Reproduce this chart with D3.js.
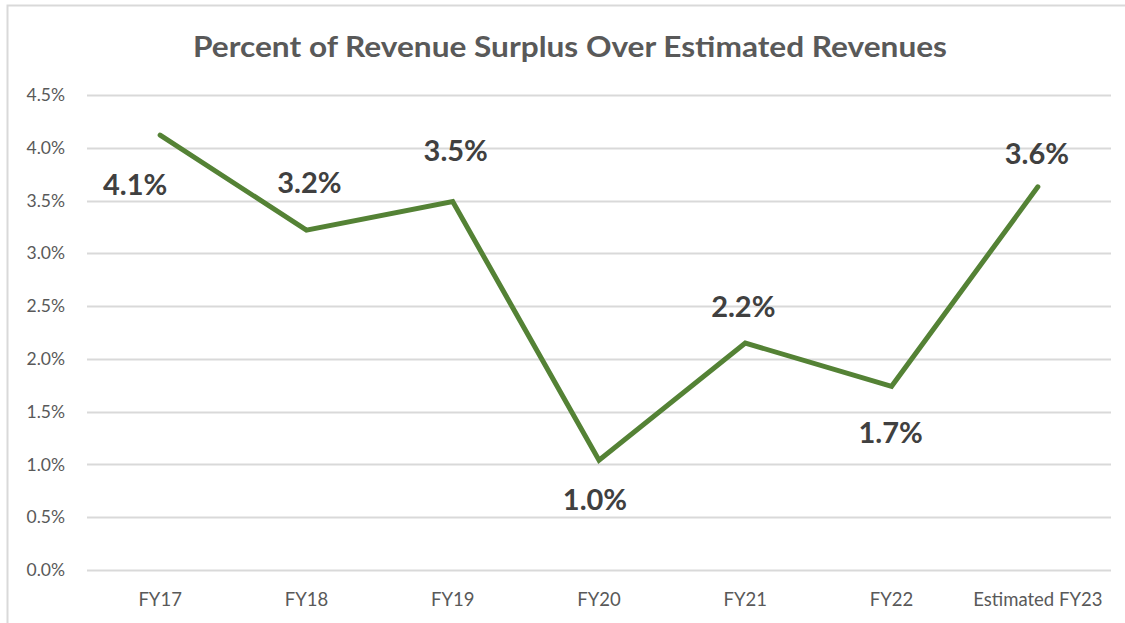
<!DOCTYPE html>
<html>
<head>
<meta charset="utf-8">
<script src="https://cdn.jsdelivr.net/npm/d3@7"></script>
<style>
  body { margin: 0; background: #fff; }
  #chart { font-family: Lato, "Open Sans", sans-serif; }
</style>
</head>
<body>
<div id="chart"></div>
<script>
var categories = ["FY17", "FY18", "FY19", "FY20", "FY21", "FY22", "Estimated FY23"];
var values = [4.12, 3.22, 3.49, 1.04, 2.15, 1.74, 3.63];
var labels = ["4.1%", "3.2%", "3.5%", "1.0%", "2.2%", "1.7%", "3.6%"];
var yTicks = [0, 0.5, 1, 1.5, 2, 2.5, 3, 3.5, 4, 4.5];

// where each data label sits relative to its point (hand placed in the original)
var labelOffsets = [[-25, 50], [3, -47], [3, -51], [-4, 40], [-2, -36], [-1, 47], [-1, -33]];

var width = 1125, height = 623,
    margin = {top: 95, right: 14, bottom: 53, left: 87};

var svg = d3.select("#chart").append("svg")
  .attr("width", width)
  .attr("height", height);

// chart frame
svg.append("path")
  .attr("d", "M7.5,623 V5.5 H1125")
  .style("fill", "none")
  .style("stroke", "#d9d9d9")
  .style("stroke-width", 2);

svg.append("text")
  .attr("x", 570)
  .attr("y", 57)
  .attr("text-anchor", "middle")
  .attr("textLength", 754)
  .attr("lengthAdjust", "spacingAndGlyphs")
  .style("font-size", "29px")
  .style("font-weight", "bold")
  .style("fill", "#595959")
  .text("Percent of Revenue Surplus Over Estimated Revenues");

var x = d3.scaleBand()
  .domain(categories)
  .range([margin.left, width - margin.right]);

var y = d3.scaleLinear()
  .domain([0, 4.5])
  .range([height - margin.bottom, margin.top]);

// gridlines
svg.append("g")
  .selectAll("line")
  .data(yTicks)
  .enter()
  .append("line")
  .attr("x1", margin.left)
  .attr("x2", width - margin.right)
  .attr("y1", function(d){ return Math.round(y(d)) + 0.5; })
  .attr("y2", function(d){ return Math.round(y(d)) + 0.5; })
  .style("stroke", "#d9d9d9")
  .style("stroke-width", 2);

// y tick labels
svg.append("g")
  .selectAll("text")
  .data(yTicks)
  .enter()
  .append("text")
  .attr("x", 65)
  .attr("y", function(d){ return y(d); })
  .attr("dy", "0.35em")
  .attr("text-anchor", "end")
  .style("font-size", "17.5px")
  .style("fill", "#595959")
  .text(function(d){ return d.toFixed(1) + "%"; });

// x tick labels
svg.append("g")
  .selectAll("text")
  .data(categories)
  .enter()
  .append("text")
  .attr("x", function(d){ return x(d) + x.bandwidth() / 2; })
  .attr("y", 606)
  .attr("text-anchor", "middle")
  .style("font-size", "18.5px")
  .style("fill", "#595959")
  .text(function(d){ return d; });

var line = d3.line()
  .x(function(d, i){ return x(categories[i]) + x.bandwidth() / 2; })
  .y(function(d){ return y(d); });

svg.append("path")
  .datum(values)
  .attr("d", line)
  .style("fill", "none")
  .style("stroke", "#548235")
  .style("stroke-width", 5)
  .style("stroke-linejoin", "miter")
  .style("stroke-linecap", "round");

// data labels
svg.append("g")
  .selectAll("text")
  .data(values)
  .enter()
  .append("text")
  .attr("x", function(d, i){ return x(categories[i]) + x.bandwidth() / 2 + labelOffsets[i][0]; })
  .attr("y", function(d, i){ return y(d) + labelOffsets[i][1]; })
  .attr("dy", "0.35em")
  .attr("text-anchor", "middle")
  .style("font-size", "29px")
  .style("font-weight", "bold")
  .style("fill", "#404040")
  .text(function(d, i){ return labels[i]; });
</script>
</body>
</html>
